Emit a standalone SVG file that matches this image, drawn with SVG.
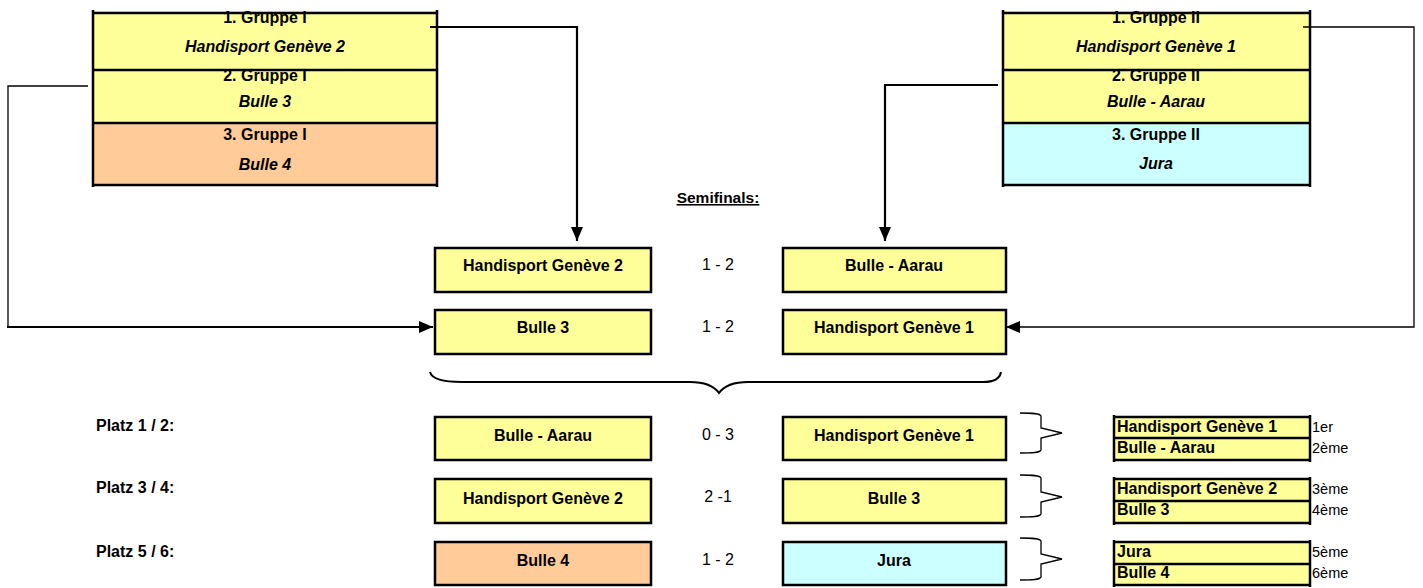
<svg xmlns="http://www.w3.org/2000/svg" width="1423" height="588" viewBox="0 0 1423 588">
<defs>
<marker id="ah" viewBox="0 0 10 10" refX="10" refY="5" markerWidth="7" markerHeight="7" markerUnits="userSpaceOnUse" orient="auto">
<path d="M0,0 L10,5 L0,10 z" fill="#000"/>
</marker>
<marker id="ahb" viewBox="0 0 10 10" refX="10" refY="5" markerWidth="14" markerHeight="12" markerUnits="userSpaceOnUse" orient="auto" preserveAspectRatio="none">
<path d="M0,0 L10,5 L0,10 z" fill="#000"/>
</marker>
</defs>
<style>
text{font-family:"Liberation Sans",Arial,sans-serif;fill:#000}
.b{font-weight:bold;font-size:16px}
.bi{font-weight:bold;font-style:italic;font-size:16px}
.c{text-anchor:middle}
.r{font-size:16px}
.rk{font-size:14.5px}
.ln{stroke:#000;stroke-width:2.5;fill:none}
.y{fill:#FFFF99}
.o{fill:#FFCC99}
.cy{fill:#CCFFFF}
.box{stroke:#000;stroke-width:2.5}
.con{stroke:#000;fill:none}
</style>
<rect width="1423" height="588" fill="#fff"/>

<g id="group1">
<rect class="y" x="92" y="11" width="346" height="112"/>
<rect class="o" x="92" y="123" width="346" height="63"/>
<text class="b c" x="265" y="23">1. Gruppe I</text>
<text class="bi c" x="265" y="52">Handisport Genève 2</text>
<text class="b c" x="265" y="81">2. Gruppe I</text>
<text class="bi c" x="265" y="107">Bulle 3</text>
<text class="b c" x="265" y="140">3. Gruppe I</text>
<text class="bi c" x="265" y="170">Bulle 4</text>
<path class="ln" d="M93,10 V187 M437,10 V187 M93,13 H437 M93,70 H437 M93,123 H437 M93,185 H437"/>
</g>

<g id="group2">
<rect class="y" x="1002" y="11" width="309" height="112"/>
<rect class="cy" x="1002" y="123" width="309" height="63"/>
<text class="b c" x="1156" y="23">1. Gruppe II</text>
<text class="bi c" x="1156" y="52">Handisport Genève 1</text>
<text class="b c" x="1156" y="81">2. Gruppe II</text>
<text class="bi c" x="1156" y="107">Bulle - Aarau</text>
<text class="b c" x="1156" y="140">3. Gruppe II</text>
<text class="bi c" x="1156" y="169">Jura</text>
<path class="ln" d="M1003,10 V187 M1310,10 V187 M1003,13 H1310 M1003,70 H1310 M1003,123 H1310 M1003,185 H1310"/>
</g>

<g id="semifinals-title">
<text class="b c" x="718" y="203" style="font-size:15.5px;text-decoration:underline">Semifinals:</text>
</g>

<g id="sf1-left"><rect class="y box" x="435" y="248" width="216" height="44"/><text class="b c" x="543" y="271">Handisport Genève 2</text></g>
<g id="sf1-score"><text class="r c" x="718" y="270">1 - 2</text></g>
<g id="sf1-right"><rect class="y box" x="783" y="248" width="223" height="44"/><text class="b c" x="894" y="271">Bulle - Aarau</text></g>

<g id="sf2-left"><rect class="y box" x="435" y="310" width="216" height="44"/><text class="b c" x="543" y="333">Bulle 3</text></g>
<g id="sf2-score"><text class="r c" x="718" y="332">1 - 2</text></g>
<g id="sf2-right"><rect class="y box" x="783" y="310" width="223" height="44"/><text class="b c" x="894" y="333">Handisport Genève 1</text></g>

<g id="brace-semis">
<path class="con" stroke-width="2" d="M430,372 C432,380 445,382 462,382 L690,382 C706,382 714,386 719,393 C724,386 732,382 748,382 L983,382 C995,382 1000,378 1001,372"/>
</g>

<g id="platz12">
<text class="b" x="96" y="431">Platz 1 / 2:</text>
<rect class="y box" x="435" y="417" width="216" height="43"/><text class="b c" x="543" y="441">Bulle - Aarau</text>
<text class="r c" x="718" y="440">0 - 3</text>
<rect class="y box" x="783" y="417" width="223" height="43"/><text class="b c" x="894" y="441">Handisport Genève 1</text>
</g>
<g id="platz34">
<text class="b" x="96" y="493">Platz 3 / 4:</text>
<rect class="y box" x="435" y="479" width="216" height="44"/><text class="b c" x="543" y="504">Handisport Genève 2</text>
<text class="r c" x="718" y="502">2 -1</text>
<rect class="y box" x="783" y="479" width="223" height="44"/><text class="b c" x="894" y="504">Bulle 3</text>
</g>
<g id="platz56">
<text class="b" x="96" y="557">Platz 5 / 6:</text>
<rect class="o box" x="435" y="542" width="216" height="43"/><text class="b c" x="543" y="566">Bulle 4</text>
<text class="r c" x="718" y="565">1 - 2</text>
<rect class="cy box" x="783" y="542" width="223" height="43"/><text class="b c" x="894" y="566">Jura</text>
</g>

<g id="braces-results">
<path class="con" stroke-width="1.3" d="M1020,413 C1032,413 1040,413 1041,416 L1041,428 L1062,433 L1041,438 L1041,450 C1040,453 1032,453 1020,453"/>
<path class="con" stroke-width="1.3" d="M1020,475 C1032,475 1040,475 1041,478 L1041,492 L1062,497 L1041,502 L1041,514 C1040,517 1032,517 1020,517"/>
<path class="con" stroke-width="1.3" d="M1020,538 C1032,538 1040,538 1041,541 L1041,554 L1062,559 L1041,564 L1041,577 C1040,580 1032,580 1020,580"/>
</g>

<g id="result12">
<rect class="y" x="1114" y="417" width="196" height="43"/>
<text class="b" x="1117" y="432">Handisport Genève 1</text>
<text class="b" x="1117" y="453">Bulle - Aarau</text>
<path class="ln" d="M1114,415 V462 M1310,415 V462 M1114,417 H1310 M1114,438 H1310 M1114,460 H1310"/>
<text class="rk" x="1312" y="432">1er</text>
<text class="rk" x="1312" y="453">2ème</text>
</g>
<g id="result34">
<rect class="y" x="1114" y="479" width="196" height="44"/>
<text class="b" x="1117" y="494">Handisport Genève 2</text>
<text class="b" x="1117" y="515">Bulle 3</text>
<path class="ln" d="M1114,477 V525 M1310,477 V525 M1114,479 H1310 M1114,501 H1310 M1114,523 H1310"/>
<text class="rk" x="1312" y="494">3ème</text>
<text class="rk" x="1312" y="515">4ème</text>
</g>
<g id="result56">
<rect class="y" x="1114" y="542" width="196" height="43"/>
<text class="b" x="1117" y="557">Jura</text>
<text class="b" x="1117" y="578">Bulle 4</text>
<path class="ln" d="M1114,540 V587 M1310,540 V587 M1114,542 H1310 M1114,564 H1310 M1114,585 H1310"/>
<text class="rk" x="1312" y="557">5ème</text>
<text class="rk" x="1312" y="578">6ème</text>
</g>

<g id="connectors">
<path class="con" stroke-width="2.2" d="M430,27 H577 V241" marker-end="url(#ahb)"/>
<path class="con" stroke-width="2.2" d="M998,85 H885 V241" marker-end="url(#ahb)"/>
<path class="con" stroke-width="1.3" d="M88,86 H8 V327"/>
<path class="con" stroke-width="2.2" d="M7,327 H433" marker-end="url(#ahb)"/>
<path class="con" stroke-width="1.3" d="M1303,27 H1414 V327 H1006" marker-end="url(#ahb)"/>
</g>
</svg>
